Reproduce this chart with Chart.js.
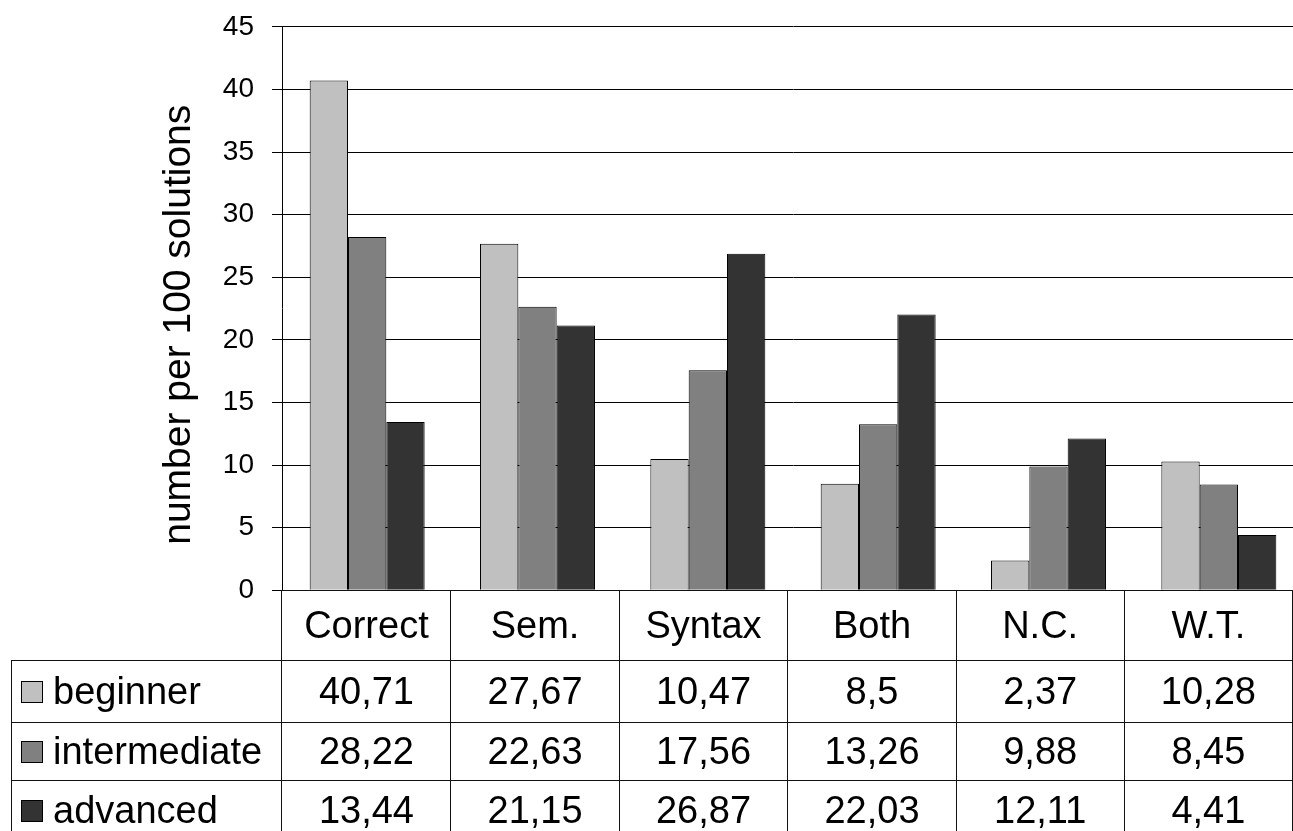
<!DOCTYPE html>
<html>
<head>
<meta charset="utf-8">
<script src="https://cdn.jsdelivr.net/npm/chart.js@4/dist/chart.umd.min.js"></script>
<style>
  html, body { margin: 0; padding: 0; background: #fff; }
  body { width: 1293px; height: 831px; overflow: hidden; position: relative; }
  #wrap { position: absolute; left: 0; top: -8px; width: 1305px; height: 633px; }
  #dataTable {
    position: absolute;
    border-collapse: collapse;
    table-layout: fixed;
    font-family: "Liberation Sans", Arial, sans-serif;
    font-size: 38px;
    color: #000;
  }
  #dataTable td {
    border: 1px solid #111;
    padding: 0;
    text-align: center;
    vertical-align: middle;
    white-space: nowrap;
    overflow: hidden;
  }
  #dataTable td.corner { border-top: none; border-left: none; }
  #dataTable td.rowHead { text-align: left; }
  .swatch {
    display: inline-block;
    width: 20px; height: 20px;
    border: 1px solid #000;
    margin: 0 10px 0 9px;
    vertical-align: 1px;
  }
</style>
</head>
<body>
<div id="wrap"><canvas id="errChart" width="1305" height="633"></canvas></div>
<table id="dataTable"></table>
<script>
// categories and series
const categories = ['Correct', 'Sem.', 'Syntax', 'Both', 'N.C.', 'W.T.'];
const seriesNames = ['beginner', 'intermediate', 'advanced'];
const beginner = [40.71, 27.67, 10.47, 8.5, 2.37, 10.28];
const intermediate = [28.22, 22.63, 17.56, 13.26, 9.88, 8.45];
const advanced = [13.44, 21.15, 26.87, 22.03, 12.11, 4.41];
const yMin = 0, yMax = 45, yStep = 5;
const yTitle = 'number per 100 solutions';

const seriesColors = ['#c0c0c0', '#808080', '#333333'];
const fontFamily = '"Liberation Sans", Arial, sans-serif';

Chart.defaults.font.family = fontFamily;
Chart.defaults.color = '#000';

const seriesValues = [beginner, intermediate, advanced];

const chart = new Chart(document.getElementById('errChart').getContext('2d'), {
    type: 'bar',
    data: {
        labels: categories,
        datasets: seriesNames.map((name, i) => ({
            label: name,
            data: seriesValues[i],
            backgroundColor: seriesColors[i],
            borderColor: '#000',
            borderWidth: 1,
            categoryPercentage: 0.675,
            barPercentage: 1.0
        }))
    },
    options: {
        responsive: false,
        animation: false,
        // the y ticks (half label height + padding) set top/bottom room themselves
        layout: { padding: { left: 156, right: 1, top: 0, bottom: 0 } },
        plugins: {
            legend: { display: false },
            tooltip: { enabled: false },
            title: { display: false }
        },
        scales: {
            x: {
                display: false
            },
            y: {
                min: yMin,
                max: yMax,
                afterFit: (scale) => { scale.width = 126; },
                ticks: {
                    stepSize: yStep,
                    padding: 18,
                    color: '#000',
                    font: { size: 28 }
                },
                grid: {
                    color: '#000',
                    lineWidth: 1,
                    drawTicks: true,
                    tickLength: 10,
                    tickColor: '#000'
                },
                border: { display: true, color: '#000', width: 1 },
                title: {
                    display: true,
                    // trailing spaces nudge the centred title a bit lower, as in the original
                    text: yTitle + '   ',
                    color: '#000',
                    font: { size: 39 },
                    padding: { top: 0, bottom: 0 }
                }
            }
        }
    }
});

// data table under the plot, columns lined up with the chart's categories
function buildTable() {
    const area = chart.chartArea;
    const canvasTop = chart.canvas.getBoundingClientRect().top;
    const colW = (area.right - area.left) / categories.length;
    const tableLeft = 11;
    const table = document.getElementById('dataTable');
    table.style.left = tableLeft + 'px';
    table.style.top = Math.round(canvasTop + area.bottom) + 'px';

    let html = '<colgroup><col style="width:' + (area.left - tableLeft) + 'px">';
    categories.forEach(() => { html += '<col style="width:' + colW + 'px">'; });
    html += '</colgroup>';

    html += '<tr style="height:70px"><td class="corner"></td>';
    categories.forEach(c => { html += '<td>' + c + '</td>'; });
    html += '</tr>';

    const rowHeights = [62, 58, 60];
    seriesNames.forEach((name, i) => {
        html += '<tr style="height:' + rowHeights[i] + 'px"><td class="rowHead">' +
            '<span class="swatch" style="background:' + seriesColors[i] + '"></span>' + name + '</td>';
        seriesValues[i].forEach(v => {
            html += '<td>' + String(v).replace('.', ',') + '</td>';
        });
        html += '</tr>';
    });
    table.innerHTML = html;
}
buildTable();
</script>
</body>
</html>
